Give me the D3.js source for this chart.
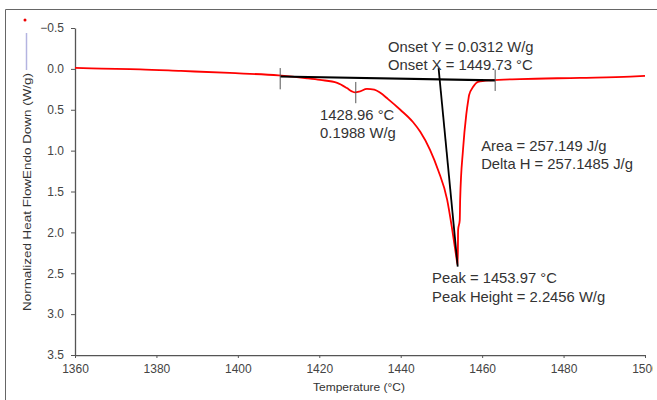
<!DOCTYPE html>
<html>
<head>
<meta charset="utf-8">
<script src="https://cdn.jsdelivr.net/npm/d3@7"></script>
<style>
  body { margin: 0; background: #fff; }
  svg { display: block; font-family: "Liberation Sans", Arial, sans-serif; }
</style>
</head>
<body>
<svg id="canvas" width="657" height="400"></svg>
<script>
// DSC trace (temperature in °C, heat flow in W/g, endo down)
let temps = [1360, 1364, 1376, 1386, 1398, 1410, 1417, 1420.2, 1424.4, 1426.8, 1428, 1428.8, 1430, 1431.7,
  1433.5, 1434.9, 1436.9, 1439.9, 1443, 1444.8, 1447.2, 1449.2, 1451.4, 1452.6, 1453.6, 1454,
  1454.1, 1454.5, 1454.6, 1455.3, 1456.1, 1456.6, 1456.8, 1457.8, 1459, 1462, 1469.3, 1484, 1496.4, 1500];
let heatFlow = [-0.012, -0.005, 0.005, 0.025, 0.05, 0.08, 0.115, 0.135, 0.17, 0.235, 0.275, 0.288, 0.275, 0.245,
  0.255, 0.29, 0.37, 0.5, 0.65, 0.77, 0.99, 1.24, 1.6, 1.95, 2.28, 2.4,
  1.97, 1.85, 1.6, 0.99, 0.56, 0.38, 0.32, 0.22, 0.16, 0.14, 0.125, 0.11, 0.095, 0.085];

let xTicks = [1360, 1380, 1400, 1420, 1440, 1460, 1480, 1500];
let yTicks = [-0.5, 0.0, 0.5, 1.0, 1.5, 2.0, 2.5, 3.0, 3.5];

// analysis construction lines
let baselineT = [1410.4, 1463.2];
let baselineV = [0.093, 0.14];
let tangentT = [1449.3, 1454.0];
let tangentV = [-0.01, 2.42];
let markerT = [1410.4, 1428.96, 1463.2];
let markerV = [0.12, 0.29, 0.14];
let markerHalf = 0.13;

// annotation texts and where they sit (data coords)
let noteText = ["Onset Y = 0.0312 W/g", "Onset X = 1449.73 °C", "1428.96 °C", "0.1988 W/g",
  "Area = 257.149 J/g", "Delta H = 257.1485 J/g", "Peak = 1453.97 °C", "Peak Height = 2.2456 W/g"];
let noteT = [1436.9, 1436.9, 1420.2, 1420.2, 1459.75, 1459.75, 1447.7, 1447.7];
let noteV = [-0.268, -0.05, 0.564, 0.784, 0.943, 1.163, 2.558, 2.79];

let canvas = d3.select("#canvas");

let x = d3.scaleLinear().domain([1360, 1500]).range([75, 645]);
let y = d3.scaleLinear().domain([-0.5, 3.5]).range([28, 355]);

// outer frame (cropped on right/bottom)
canvas.append("path")
  .attr("d", "M5.5,400 V9.5 H657")
  .attr("fill", "none")
  .attr("stroke", "#666")
  .attr("stroke-width", 1);

// little legend marks top-left
canvas.append("circle").attr("cx", 25).attr("cy", 20).attr("r", 1.5).attr("fill", "#e00");
canvas.append("line").attr("x1", 26.5).attr("x2", 26.5).attr("y1", 33).attr("y2", 70)
  .attr("stroke", "#b4b4e0").attr("stroke-width", 1.5);

// the source image is cropped just past the last tick, so its label shows as "150"
canvas.append("defs").append("clipPath").attr("id", "crop")
  .append("rect").attr("x", 0).attr("y", 0).attr("width", 653).attr("height", 400);

let xAxis = canvas.append("g")
  .attr("clip-path", "url(#crop)")
  .attr("transform", "translate(0," + y(3.5) + ")")
  .call(d3.axisBottom(x).tickValues(xTicks).tickFormat(d3.format("d")).tickSize(3).tickSizeOuter(0).tickPadding(6));

let yAxis = canvas.append("g")
  .attr("transform", "translate(" + x(1360) + ",0)")
  .call(d3.axisLeft(y).tickValues(yTicks).tickFormat(d3.format(".1f")).tickSize(4).tickSizeOuter(0).tickPadding(7));

[xAxis, yAxis].forEach((ax) => {
  ax.select(".domain").attr("stroke", "#555").attr("stroke-width", 1.3);
  ax.selectAll(".tick line").attr("stroke", "#555");
  ax.selectAll(".tick text").attr("fill", "#444").style("font-size", "12px");
});

canvas.append("text")
  .attr("x", 313).attr("y", 391)
  .attr("fill", "#333")
  .attr("textLength", 92)
  .attr("lengthAdjust", "spacingAndGlyphs")
  .style("font-size", "11.5px")
  .text("Temperature (°C)");

canvas.append("text")
  .attr("transform", "translate(31,311) rotate(-90)")
  .attr("fill", "#333")
  .attr("textLength", 238)
  .attr("lengthAdjust", "spacingAndGlyphs")
  .style("font-size", "11.5px")
  .text("Normalized Heat FlowEndo Down (W/g)");

// the trace
canvas.append("path")
  .datum(temps.map((t, i) => [t, heatFlow[i]]))
  .attr("d", d3.line().x((d) => x(d[0])).y((d) => y(d[1])).curve(d3.curveMonotoneX))
  .attr("fill", "none")
  .attr("stroke", "#f00")
  .attr("stroke-width", 1.8);

// baseline + tangent
canvas.append("path")
  .datum(baselineT.map((t, i) => [t, baselineV[i]]))
  .attr("d", d3.line().x((d) => x(d[0])).y((d) => y(d[1])))
  .attr("stroke", "#000")
  .attr("stroke-width", 2.2);

canvas.append("path")
  .datum(tangentT.map((t, i) => [t, tangentV[i]]))
  .attr("d", d3.line().x((d) => x(d[0])).y((d) => y(d[1])))
  .attr("stroke", "#000")
  .attr("stroke-width", 1.8);

// vertical markers
canvas.selectAll("line.marker")
  .data(markerT)
  .enter()
  .append("line")
  .attr("class", "marker")
  .attr("x1", (d) => x(d))
  .attr("x2", (d) => x(d))
  .attr("y1", (d, i) => y(markerV[i] - markerHalf))
  .attr("y2", (d, i) => y(markerV[i] + markerHalf))
  .attr("stroke", "#555")
  .attr("stroke-width", 1);

canvas.selectAll("text.note")
  .data(noteText)
  .enter()
  .append("text")
  .attr("class", "note")
  .attr("x", (d, i) => x(noteT[i]))
  .attr("y", (d, i) => y(noteV[i]))
  .attr("dy", "0.35em")
  .attr("fill", "#333")
  .style("font-size", "14.8px")
  .text((d) => d);
</script>
</body>
</html>
